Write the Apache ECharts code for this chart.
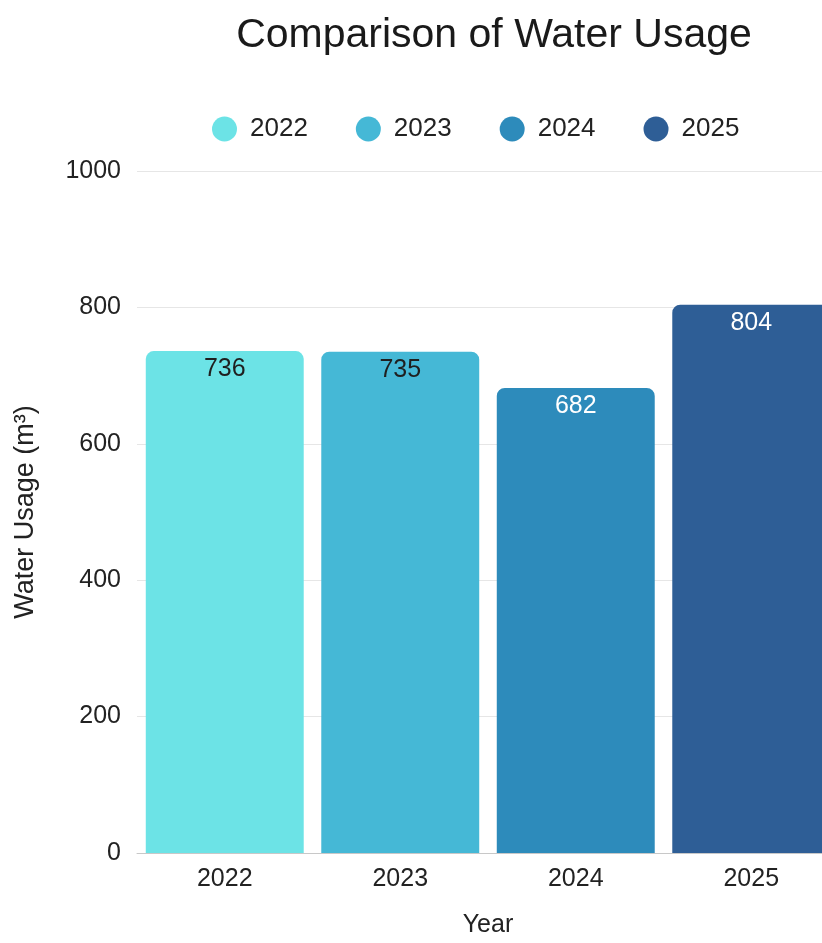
<!DOCTYPE html>
<html>
<head>
<meta charset="utf-8">
<script src="https://cdn.jsdelivr.net/npm/echarts@6/dist/echarts.min.js"></script>
<style>
  html, body { margin: 0; padding: 0; background: #fff; overflow: hidden; }
  /* the last bar runs off the right edge in the original, so the chart is wider than the window */
  #chart { width: 839px; height: 943px; }
</style>
</head>
<body>
<div id="chart"></div>
<script>
const years = ['2022', '2023', '2024', '2025'];
const usage = [736, 735, 682, 804];
const barColors = ['#6ce3e6', '#45b8d6', '#2d8bbb', '#2e5e96'];
const labelColors = ['#1f1f1f', '#1f1f1f', '#ffffff', '#ffffff'];
const yTicks = [0, 200, 400, 600, 800, 1000];

const font = 'Liberation Sans, Arial, sans-serif';
const myChart = echarts.init(document.getElementById('chart'));

// one series per year so each gets its own legend entry and colour
const series = years.map((year, i) => ({
  name: year,
  type: 'bar',
  stack: 'usage',
  barWidth: '90%',
  data: years.map((y, j) => (j === i ? usage[i] : null)),
  itemStyle: {
    color: barColors[i],
    borderRadius: [8, 8, 0, 0]
  },
  label: {
    show: true,
    position: 'insideTop',
    distance: 6,
    color: labelColors[i],
    fontFamily: font,
    fontSize: 25
  }
}));

const option = {
  animation: false,
  title: {
    text: 'Comparison of Water Usage',
    left: 489,
    top: 10,
    textAlign: 'center',
    textStyle: {
      fontFamily: font,
      fontSize: 41,
      fontWeight: 'normal',
      color: '#1a1a1a'
    }
  },
  legend: {
    data: years,
    left: 207,
    top: 111,
    icon: 'circle',
    itemWidth: 25,
    itemHeight: 25,
    itemGap: 48,
    textStyle: {
      fontFamily: font,
      fontSize: 26,
      color: '#222',
      padding: [0, 0, 0, 8]
    }
  },
  grid: {
    left: 137,
    right: 0,
    top: 171,
    bottom: 85,
    containLabel: false
  },
  xAxis: {
    type: 'category',
    data: years,
    name: 'Year',
    nameLocation: 'middle',
    nameGap: 60,
    nameTextStyle: { fontFamily: font, fontSize: 25, color: '#222' },
    axisLine: { lineStyle: { color: '#c8c8c8' } },
    axisTick: { show: false },
    axisLabel: { fontFamily: font, fontSize: 25, color: '#222', margin: 14 }
  },
  yAxis: {
    type: 'value',
    min: yTicks[0],
    max: yTicks[yTicks.length - 1],
    interval: 200,
    name: 'Water Usage (m³)',
    nameLocation: 'middle',
    nameGap: 98,
    nameTextStyle: { fontFamily: font, fontSize: 27, color: '#222' },
    axisLine: { show: false },
    axisTick: { show: false },
    axisLabel: {
      fontFamily: font,
      fontSize: 25,
      color: '#222',
      margin: 16,
      formatter: (v) => String(v)
    },
    splitLine: { lineStyle: { color: '#e6e6e6' } }
  },
  series: series
};
myChart.setOption(option);
</script>
</body>
</html>
